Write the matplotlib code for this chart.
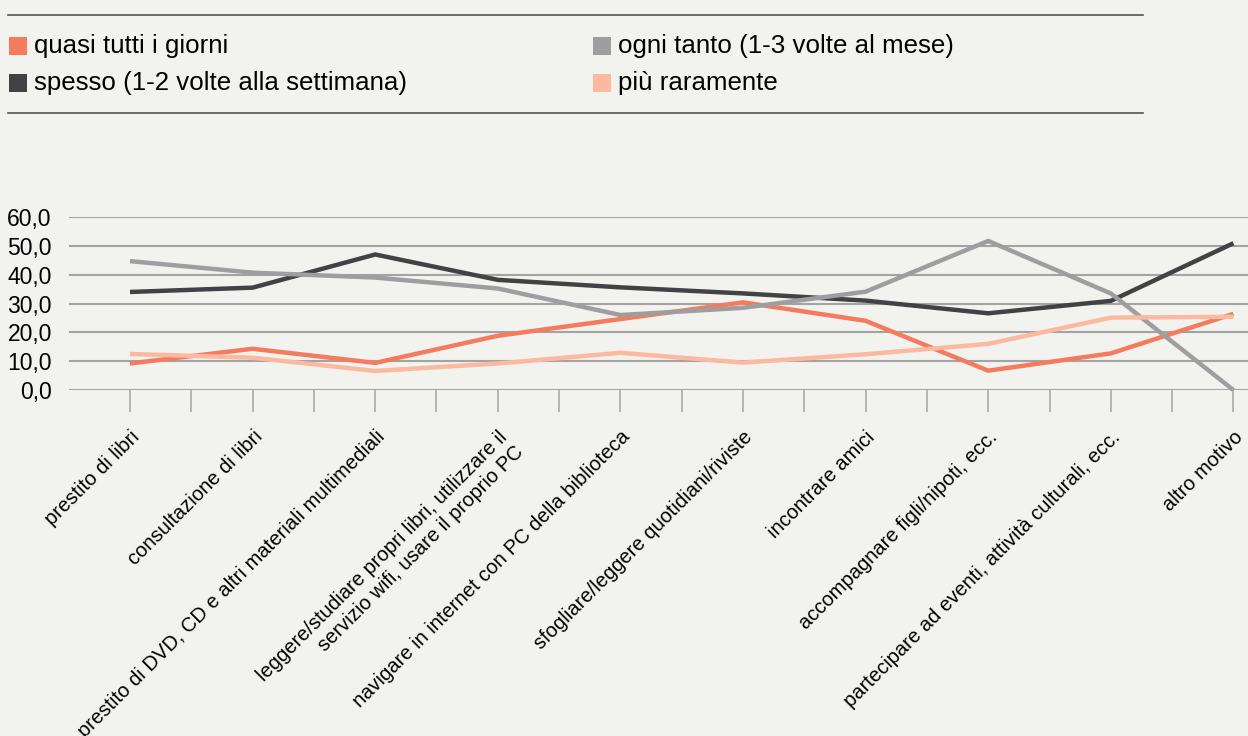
import matplotlib
matplotlib.use("Agg")
import matplotlib.pyplot as plt
from matplotlib.patches import Rectangle
from matplotlib.lines import Line2D
from matplotlib.ticker import FixedLocator

plt.rcParams['font.family'] = ['Liberation Sans', 'DejaVu Sans']

categories = [
    "prestito di libri",
    "consultazione di libri",
    "prestito di DVD, CD e altri materiali multimediali",
    "leggere/studiare propri libri, utilizzare il\nservizio wifi, usare il proprio PC",
    "navigare in internet con PC della biblioteca",
    "sfogliare/leggere quotidiani/riviste",
    "incontrare amici",
    "accompagnare figli/nipoti, ecc.",
    "partecipare ad eventi, attività culturali, ecc.",
    "altro motivo",
]
series_names = [
    "quasi tutti i giorni",
    "spesso (1-2 volte alla settimana)",
    "ogni tanto (1-3 volte al mese)",
    "più raramente",
]
quasi_tutti = [9.2, 14.3, 9.4, 18.8, 24.6, 30.4, 24.0, 6.7, 12.7, 26.4]
spesso = [34.0, 35.5, 47.0, 38.2, 35.6, 33.5, 31.0, 26.6, 30.9, 50.9]
ogni_tanto = [44.7, 40.7, 39.0, 35.2, 26.0, 28.5, 34.1, 51.7, 33.5, 0.0]
raramente = [12.5, 11.2, 6.6, 9.2, 12.9, 9.5, 12.4, 16.0, 25.1, 25.4]
y_ticks = [0, 10, 20, 30, 40, 50, 60]
y_tick_labels = ["0,0", "10,0", "20,0", "30,0", "40,0", "50,0", "60,0"]

colors = ["#F47B5E", "#424244", "#9E9EA1", "#FBB9A0"]
bg = "#F2F2EE"
grid_c = "#A3A3A3"

W, H = 1248, 736
fig = plt.figure(figsize=(W / 100, H / 100), dpi=100, facecolor=bg)

# axes in pixel geometry
left_px, right_px = 68.7, 68.7 + 1226
bottom_px, top_px = 390, 217
ax = fig.add_axes([left_px / W, (H - bottom_px) / H, (right_px - left_px) / W, (bottom_px - top_px) / H])
ax.set_facecolor(bg)

x = list(range(len(categories)))
for vals, c in zip([quasi_tutti, spesso, ogni_tanto, raramente], colors):
    ax.plot(x, vals, color=c, lw=3.2, solid_capstyle='butt', solid_joinstyle='miter', clip_on=False, zorder=3)

ax.set_xlim(-0.5, len(categories) - 0.5)
ax.set_ylim(0, 60)
ax.set_yticks(y_ticks)
ax.set_yticklabels(y_tick_labels)
ax.yaxis.grid(True, color=grid_c, lw=1.5)
ax.set_axisbelow(True)
for s in ax.spines.values():
    s.set_visible(False)

ax.set_xticks(x)
ax.set_xticklabels(categories, rotation=45, ha='right', rotation_mode='anchor',
                   fontsize=14.5, multialignment='right')
ax.xaxis.set_minor_locator(FixedLocator([i + 0.5 for i in range(0, len(categories) - 1)]))
ax.tick_params(axis='x', which='both', length=15.8, width=1.1, color=grid_c, pad=11)
ax.tick_params(axis='y', length=0, pad=12.2, labelsize=16.5, labelcolor='black')

# legend (manual)
def fx(px):
    return px / W

def fy(py):
    return 1 - py / H

for yy in (14.5, 113):
    fig.add_artist(Line2D([fx(8), fx(1143)], [fy(yy), fy(yy)], color="#555555", lw=1.2,
                          transform=fig.transFigure))

legend_pos = {0: (9, 46), 1: (9, 83), 2: (593, 46), 3: (593, 83)}
for i in range(4):
    px, py = legend_pos[i]
    fig.add_artist(Rectangle((fx(px), fy(py + 8.5)), 17.5 / W, 17.5 / H, color=colors[i],
                             transform=fig.transFigure, lw=0))
    fig.text(fx(px + 25), fy(py), series_names[i], fontsize=18.6, va='center', ha='left', color='black')

fig.savefig("out.png", dpi=100, facecolor=bg)
